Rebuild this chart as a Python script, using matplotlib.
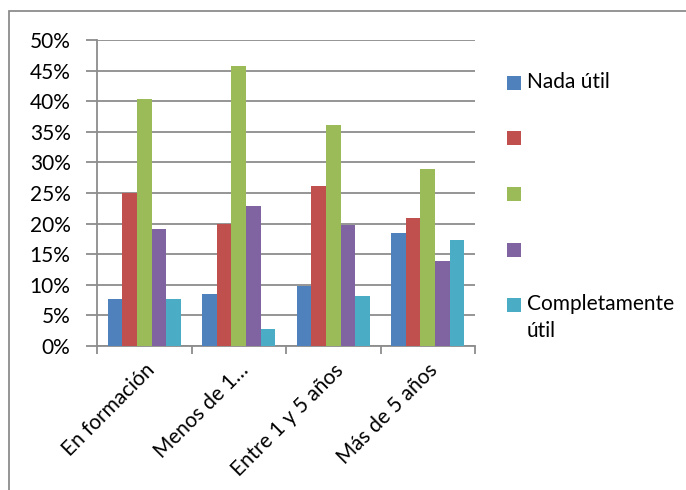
import matplotlib
matplotlib.use("Agg")
import matplotlib.pyplot as plt
from matplotlib.patches import Rectangle
from matplotlib.transforms import ScaledTranslation
import numpy as np

categories = ["En formación", "Menos de 1…", "Entre 1 y 5 años", "Más de 5 años"]
series_names = ["Nada útil", "", "", "", "Completamente\nútil"]
colors = ["#4F81BD", "#C0504D", "#9BBB59", "#8064A2", "#4BACC6"]
values = [
    [7.6, 8.5, 9.8, 18.5],
    [25.0, 20.0, 26.2, 20.9],
    [40.3, 45.7, 36.1, 29.0],
    [19.1, 22.8, 19.7, 13.9],
    [7.6, 2.8, 8.1, 17.4],
]
yticks = [0, 5, 10, 15, 20, 25, 30, 35, 40, 45, 50]
ytick_labels = [f"{t}%" for t in yticks]

plt.rcParams['font.family'] = ['Lato', 'DejaVu Sans']
FS = 15
W, H = 686, 490
fig = plt.figure(figsize=(W / 100, H / 100), dpi=100)

# outer border
fig.patches.append(Rectangle((9 / W, -0.1), 1.2, 1 - 11 / H + 0.1, transform=fig.transFigure,
                             fill=False, edgecolor="#8c8c8c", linewidth=1.3))

ax = fig.add_axes([97 / W, 1 - 346 / H, (475 - 97) / W, (346 - 40) / H])
x = np.arange(len(categories))
bw = 0.155
for i, (vals, c, name) in enumerate(zip(values, colors, series_names)):
    ax.bar(x + (i - 2) * bw, vals, bw, color=c, label=name, zorder=3)

ax.set_xlim(-0.5, len(categories) - 0.5)
ax.set_ylim(0, 50)
ax.set_yticks(yticks)
ax.set_yticklabels(ytick_labels, fontsize=FS)
ax.yaxis.grid(True, color="#8c8c8c", linewidth=1.3, zorder=0)
ax.tick_params(axis='y', length=8, color="#8c8c8c", width=1.3, pad=11, direction='out')
ax.set_xticks(np.arange(len(categories) + 1) - 0.5)
ax.set_xticklabels([])
ax.set_xticks(x, minor=True)
ax.set_xticklabels(categories, minor=True, rotation=45, ha='right', va='top',
                   rotation_mode='anchor', fontsize=FS)
shift = ScaledTranslation(-6 / 100, 0, fig.dpi_scale_trans)
for lbl in ax.get_xticklabels(minor=True):
    lbl.set_transform(lbl.get_transform() + shift)
ax.tick_params(axis='x', which='major', length=6, color="#8c8c8c", width=1.3, direction='out')
ax.tick_params(axis='x', which='minor', length=0, pad=10)
for s in ['top', 'right']:
    ax.spines[s].set_visible(False)
for s in ['left', 'bottom']:
    ax.spines[s].set_color("#8c8c8c")
    ax.spines[s].set_linewidth(1.3)

# legend (drawn as figure-level items, one row per series)
leg_y = [83, 138, 194, 250, 305]
for name, c, yc in zip(series_names, colors, leg_y):
    fig.patches.append(Rectangle((507 / W, 1 - (yc + 7) / H), 14 / W, 14 / H,
                                 transform=fig.transFigure, facecolor=c, edgecolor='none'))
    if name:
        fig.text(527 / W, 1 - (yc - 11) / H, name, fontsize=FS, ha='left', va='top',
                 linespacing=1.45)

fig.savefig("out.png", dpi=100)
